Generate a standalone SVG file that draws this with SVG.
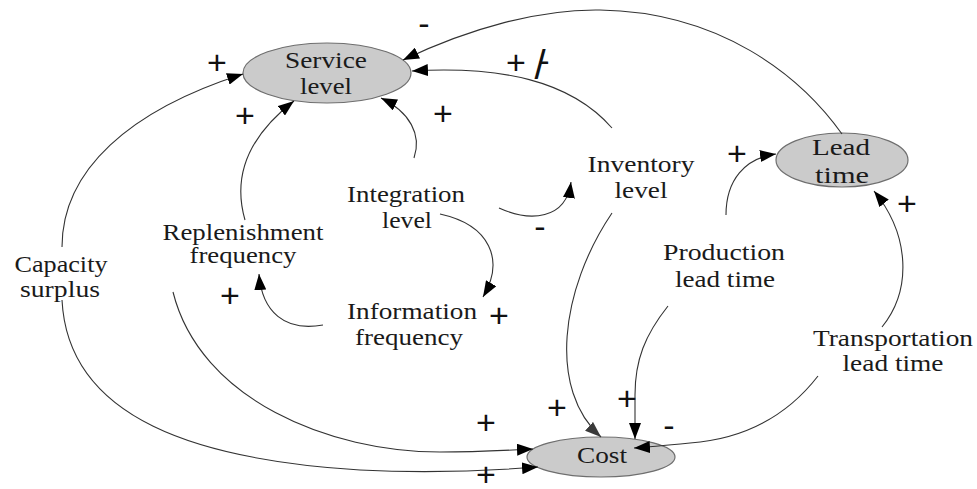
<svg xmlns="http://www.w3.org/2000/svg" width="977" height="489" viewBox="0 0 977 489">
<style>
.t{font-family:"Liberation Serif","Times New Roman",serif;font-size:23px;fill:#1a1a1a;text-anchor:middle}
.s{font-family:"Liberation Sans",Arial,sans-serif;font-size:34px;fill:#111;text-anchor:middle}
.e{fill:#cbcbcb;stroke:#6e6e6e;stroke-width:1.2}
.c{fill:none;stroke:#333;stroke-width:1.1}
</style>
<defs>
<marker id="arr" viewBox="0 0 16 12" refX="16" refY="6" markerWidth="16" markerHeight="12" orient="auto" markerUnits="userSpaceOnUse"><path d="M0,0 L16,6 L0,12 z" fill="#000"/></marker>
<marker id="arrg" viewBox="0 0 16 12" refX="16" refY="6" markerWidth="16" markerHeight="12" orient="auto" markerUnits="userSpaceOnUse"><path d="M0,0 L16,6 L0,12 z" fill="#3a3a3a"/></marker>
</defs>
<rect width="977" height="489" fill="#fff"/>
<g id="service-level">
<ellipse class="e" cx="327" cy="73" rx="84" ry="30"/>
<text class="t" x="326" y="68" textLength="82" lengthAdjust="spacingAndGlyphs">Service</text>
<text class="t" x="326" y="94" textLength="52" lengthAdjust="spacingAndGlyphs">level</text>
</g>
<g id="lead-time">
<ellipse class="e" cx="842" cy="160" rx="66" ry="27"/>
<text class="t" x="841" y="155" textLength="58" lengthAdjust="spacingAndGlyphs">Lead</text>
<text class="t" x="842" y="183" textLength="54" lengthAdjust="spacingAndGlyphs">time</text>
</g>
<g id="cost">
<ellipse class="e" cx="601" cy="457" rx="74" ry="20"/>
<text class="t" x="602" y="463" textLength="50" lengthAdjust="spacingAndGlyphs">Cost</text>
</g>
<g id="integration-level">
<text class="t" x="406" y="202" textLength="118" lengthAdjust="spacingAndGlyphs">Integration</text>
<text class="t" x="407" y="228" textLength="50" lengthAdjust="spacingAndGlyphs">level</text>
</g>
<g id="replenishment-frequency">
<text class="t" x="243" y="240" textLength="161" lengthAdjust="spacingAndGlyphs">Replenishment</text>
<text class="t" x="243" y="263" textLength="107" lengthAdjust="spacingAndGlyphs">frequency</text>
</g>
<g id="capacity-surplus">
<text class="t" x="61" y="272" textLength="93" lengthAdjust="spacingAndGlyphs">Capacity</text>
<text class="t" x="60" y="297" textLength="80" lengthAdjust="spacingAndGlyphs">surplus</text>
</g>
<g id="information-frequency">
<text class="t" x="412" y="319" textLength="130" lengthAdjust="spacingAndGlyphs">Information</text>
<text class="t" x="409" y="345" textLength="108" lengthAdjust="spacingAndGlyphs">frequency</text>
</g>
<g id="inventory-level">
<text class="t" x="641" y="172" textLength="107" lengthAdjust="spacingAndGlyphs">Inventory</text>
<text class="t" x="641" y="198" textLength="53" lengthAdjust="spacingAndGlyphs">level</text>
</g>
<g id="production-lead-time">
<text class="t" x="724" y="260" textLength="122" lengthAdjust="spacingAndGlyphs">Production</text>
<text class="t" x="725" y="287" textLength="100" lengthAdjust="spacingAndGlyphs">lead time</text>
</g>
<g id="transportation-lead-time">
<text class="t" x="893" y="346" textLength="160" lengthAdjust="spacingAndGlyphs">Transportation</text>
<text class="t" x="893" y="371" textLength="101" lengthAdjust="spacingAndGlyphs">lead time</text>
</g>
<g id="connectors">
<path class="c" marker-end="url(#arr)" d="M842,134 C800,75 720,12 600,10 C540,9 470,28 403,60"/>
<path class="c" marker-end="url(#arr)" d="M612,128 C570,80 500,66 412,71"/>
<path class="c" marker-end="url(#arr)" d="M414,158 C422,135 410,112 381,98"/>
<path class="c" marker-end="url(#arr)" d="M245,220 C232,175 250,135 294,101"/>
<path class="c" marker-end="url(#arr)" d="M62,247 C62,170 130,110 243,74"/>
<path class="c" marker-end="url(#arr)" d="M62,300 C68,420 200,460 360,470 C440,474 500,470 538,467"/>
<path class="c" marker-end="url(#arr)" d="M173,292 C200,400 330,452 440,452 C480,452 510,450 533,449"/>
<path class="c" marker-end="url(#arr)" d="M499,208 C530,222 566,220 571,182"/>
<path class="c" marker-end="url(#arr)" d="M440,214 C490,225 505,260 483,297"/>
<path class="c" marker-end="url(#arr)" d="M323,325 C285,332 262,312 259,274"/>
<path class="c" marker-end="url(#arrg)" d="M612,213 C560,290 548,390 601,437"/>
<path class="c" marker-end="url(#arr)" d="M668,306 C645,335 635,360 635,395 L635,439"/>
<path class="c" marker-end="url(#arr)" d="M818,376 C780,425 730,440 690,443 C670,445 650,447 634,448"/>
<path class="c" marker-end="url(#arr)" d="M726,215 C726,180 745,158 776,154"/>
<path class="c" marker-end="url(#arr)" d="M882,327 C912,290 910,235 874,191"/>
</g>
<g id="polarities">
<text class="s" x="217" y="74">+</text>
<text class="s" x="424" y="35">-</text>
<text class="s"><tspan x="516" y="74">+</tspan><tspan x="540" y="79" style="font-size:40px">/</tspan><tspan x="544" y="72">-</tspan></text>
<text class="s" x="245" y="127">+</text>
<text class="s" x="443" y="125">+</text>
<text class="s" x="737" y="165">+</text>
<text class="s" x="907" y="215">+</text>
<text class="s" x="540" y="238">-</text>
<text class="s" x="499" y="327">+</text>
<text class="s" x="230" y="307">+</text>
<text class="s" x="486" y="434">+</text>
<text class="s" x="557" y="419">+</text>
<text class="s" x="627" y="410">+</text>
<text class="s" x="669" y="437">-</text>
<text class="s" x="486" y="486">+</text>
</g>
</svg>
